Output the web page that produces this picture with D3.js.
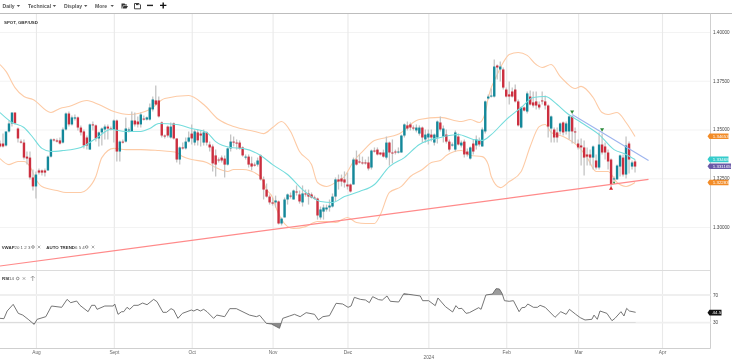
<!DOCTYPE html>
<html>
<head>
<meta charset="utf-8">
<script src="https://cdn.jsdelivr.net/npm/d3@7/dist/d3.min.js"></script>
<style>
  html, body { margin: 0; padding: 0; background: #fff; overflow: hidden; }
  svg { display: block; font-family: "Liberation Sans", Arial, sans-serif; filter: blur(0.25px); }
</style>
</head>
<body>
<script>
// Daily candles, GBP/USD (one row per ten bars)
const opens = [
  1.3428,1.3428,1.3418,1.3490,1.3531,1.3587,1.3505,1.3438,1.3433,1.3361,
  1.3356,1.3254,1.3208,1.3290,1.3290,1.3290,1.3290,1.3361,1.3449,1.3444,
  1.3444,1.3433,1.3500,1.3582,1.3526,1.3556,1.3562,1.3510,1.3490,1.3459,
  1.3397,1.3526,1.3521,1.3454,1.3485,1.3500,1.3515,1.3505,1.3500,1.3546,
  1.3387,1.3438,1.3438,1.3495,1.3490,1.3546,1.3541,1.3526,1.3556,1.3551,
  1.3551,1.3603,1.3649,1.3649,1.3536,1.3469,1.3515,1.3459,1.3531,1.3454,
  1.3346,1.3408,1.3403,1.3438,1.3479,1.3433,1.3485,1.3479,1.3433,1.3485,
  1.3423,1.3413,1.3367,1.3346,1.3356,1.3351,1.3320,1.3403,1.3438,1.3433,
  1.3433,1.3408,1.3356,1.3361,1.3326,1.3320,1.3320,1.3367,1.3244,1.3192,
  1.3156,1.3126,1.3126,1.3131,1.3018,1.3049,1.3141,1.3161,1.3141,1.3182,
  1.3167,1.3126,1.3172,1.3172,1.3167,1.3151,1.3146,1.3049,1.3079,1.3090,
  1.3100,1.3105,1.3156,1.3244,1.3249,1.3244,1.3218,1.3218,1.3218,1.3346,
  1.3336,1.3331,1.3331,1.3331,1.3305,1.3392,1.3397,1.3382,1.3382,1.3356,
  1.3433,1.3382,1.3387,1.3382,1.3382,1.3469,1.3521,1.3526,1.3510,1.3495,
  1.3479,1.3510,1.3449,1.3459,1.3474,1.3433,1.3459,1.3536,1.3464,1.3474,
  1.3438,1.3418,1.3397,1.3464,1.3418,1.3438,1.3387,1.3351,1.3428,1.3418,
  1.3444,1.3413,1.3490,1.3659,1.3669,1.3669,1.3828,1.3808,1.3808,1.3705,
  1.3680,1.3695,1.3705,1.3644,1.3510,1.3613,1.3592,1.3669,1.3639,1.3644,
  1.3628,1.3649,1.3644,1.3623,1.3505,1.3500,1.3485,1.3490,1.3536,1.3490,
  1.3490,1.3567,1.3490,1.3428,1.3418,1.3408,1.3372,1.3372,1.3356,1.3341,
  1.3305,1.3423,1.3413,1.3382,1.3346,1.3244,1.3244,1.3310,1.3356,1.3269,
  1.3428,1.3310,1.3336
]
const closes = [
  1.3413,1.3413,1.3490,1.3531,1.3587,1.3531,1.3454,1.3433,1.3356,1.3351,
  1.3254,1.3208,1.3269,1.3279,1.3279,1.3279,1.3361,1.3449,1.3444,1.3438,
  1.3428,1.3500,1.3582,1.3526,1.3562,1.3562,1.3510,1.3485,1.3418,1.3418,
  1.3526,1.3521,1.3454,1.3485,1.3505,1.3515,1.3505,1.3500,1.3546,1.3387,
  1.3438,1.3433,1.3505,1.3500,1.3546,1.3526,1.3526,1.3577,1.3551,1.3562,
  1.3613,1.3654,1.3628,1.3567,1.3469,1.3464,1.3469,1.3515,1.3454,1.3346,
  1.3408,1.3403,1.3438,1.3459,1.3454,1.3490,1.3444,1.3469,1.3485,1.3433,
  1.3408,1.3326,1.3320,1.3341,1.3341,1.3320,1.3403,1.3438,1.3433,1.3428,
  1.3403,1.3367,1.3361,1.3320,1.3310,1.3315,1.3341,1.3244,1.3192,1.3156,
  1.3126,1.3120,1.3136,1.3018,1.3043,1.3141,1.3167,1.3156,1.3187,1.3177,
  1.3131,1.3172,1.3167,1.3156,1.3151,1.3146,1.3059,1.3090,1.3100,1.3100,
  1.3110,1.3156,1.3244,1.3233,1.3233,1.3228,1.3208,1.3182,1.3346,1.3320,
  1.3331,1.3326,1.3326,1.3300,1.3392,1.3387,1.3372,1.3372,1.3361,1.3433,
  1.3382,1.3377,1.3382,1.3387,1.3469,1.3526,1.3505,1.3510,1.3505,1.3510,
  1.3510,1.3459,1.3474,1.3479,1.3459,1.3474,1.3541,1.3500,1.3505,1.3438,
  1.3397,1.3423,1.3485,1.3423,1.3433,1.3372,1.3372,1.3408,1.3387,1.3449,
  1.3423,1.3500,1.3644,1.3669,1.3674,1.3823,1.3818,1.3823,1.3715,1.3669,
  1.3669,1.3669,1.3644,1.3521,1.3613,1.3597,1.3685,1.3628,1.3623,1.3623,
  1.3613,1.3644,1.3623,1.3515,1.3567,1.3459,1.3459,1.3531,1.3485,1.3531,
  1.3567,1.3490,1.3485,1.3408,1.3408,1.3356,1.3361,1.3356,1.3413,1.3305,
  1.3423,1.3382,1.3382,1.3336,1.3218,1.3249,1.3315,1.3367,1.3269,1.3418,
  1.3346,1.3331,1.3310
]
const highs = [
  1.3444,1.3479,1.3479,1.3546,1.3587,1.3587,1.3510,1.3449,1.3449,1.3387,
  1.3387,1.3295,1.3285,1.3300,1.3295,1.3300,1.3367,1.3454,1.3454,1.3454,
  1.3459,1.3510,1.3587,1.3592,1.3572,1.3577,1.3567,1.3521,1.3500,1.3469,
  1.3531,1.3541,1.3526,1.3490,1.3510,1.3526,1.3526,1.3515,1.3551,1.3551,
  1.3444,1.3449,1.3562,1.3510,1.3592,1.3587,1.3567,1.3587,1.3572,1.3567,
  1.3633,1.3669,1.3726,1.3669,1.3541,1.3474,1.3521,1.3536,1.3536,1.3454,
  1.3413,1.3433,1.3459,1.3490,1.3526,1.3500,1.3500,1.3495,1.3500,1.3490,
  1.3438,1.3423,1.3397,1.3356,1.3367,1.3367,1.3408,1.3474,1.3464,1.3449,
  1.3444,1.3413,1.3372,1.3372,1.3361,1.3331,1.3356,1.3372,1.3259,1.3223,
  1.3167,1.3151,1.3161,1.3136,1.3049,1.3151,1.3172,1.3177,1.3192,1.3213,
  1.3187,1.3213,1.3192,1.3192,1.3177,1.3161,1.3151,1.3105,1.3115,1.3115,
  1.3141,1.3172,1.3254,1.3269,1.3269,1.3285,1.3279,1.3223,1.3356,1.3392,
  1.3372,1.3361,1.3346,1.3361,1.3397,1.3408,1.3408,1.3382,1.3397,1.3464,
  1.3438,1.3449,1.3397,1.3408,1.3474,1.3531,1.3541,1.3536,1.3521,1.3526,
  1.3521,1.3515,1.3500,1.3500,1.3500,1.3479,1.3546,1.3567,1.3521,1.3500,
  1.3449,1.3433,1.3495,1.3479,1.3444,1.3449,1.3403,1.3413,1.3449,1.3469,
  1.3459,1.3510,1.3649,1.3680,1.3710,1.3859,1.3833,1.3849,1.3818,1.3715,
  1.3746,1.3715,1.3731,1.3654,1.3618,1.3618,1.3695,1.3700,1.3695,1.3695,
  1.3644,1.3695,1.3674,1.3628,1.3572,1.3510,1.3510,1.3536,1.3541,1.3541,
  1.3572,1.3572,1.3510,1.3449,1.3454,1.3444,1.3408,1.3397,1.3418,1.3372,
  1.3485,1.3479,1.3433,1.3397,1.3351,1.3259,1.3320,1.3372,1.3372,1.3464,
  1.3438,1.3341,1.3346
]
const lows = [
  1.3408,1.3408,1.3413,1.3485,1.3515,1.3526,1.3433,1.3428,1.3346,1.3320,
  1.3244,1.3187,1.3146,1.3269,1.3264,1.3259,1.3290,1.3356,1.3438,1.3433,
  1.3423,1.3428,1.3495,1.3515,1.3521,1.3546,1.3495,1.3469,1.3403,1.3397,
  1.3397,1.3495,1.3438,1.3413,1.3418,1.3449,1.3449,1.3495,1.3433,1.3336,
  1.3336,1.3428,1.3433,1.3485,1.3490,1.3515,1.3510,1.3510,1.3546,1.3546,
  1.3546,1.3592,1.3623,1.3562,1.3459,1.3454,1.3459,1.3454,1.3449,1.3331,
  1.3320,1.3397,1.3397,1.3433,1.3423,1.3418,1.3418,1.3413,1.3418,1.3418,
  1.3387,1.3285,1.3259,1.3331,1.3331,1.3254,1.3315,1.3387,1.3413,1.3397,
  1.3397,1.3361,1.3346,1.3305,1.3290,1.3310,1.3310,1.3238,1.3141,1.3151,
  1.3115,1.3110,1.3100,1.3013,1.3008,1.3049,1.3115,1.3146,1.3141,1.3161,
  1.3120,1.3105,1.3156,1.3115,1.3146,1.3141,1.3038,1.3038,1.3038,1.3079,
  1.3079,1.3100,1.3131,1.3192,1.3208,1.3202,1.3192,1.3177,1.3218,1.3315,
  1.3326,1.3320,1.3320,1.3290,1.3295,1.3382,1.3367,1.3367,1.3356,1.3346,
  1.3315,1.3326,1.3372,1.3377,1.3382,1.3459,1.3495,1.3495,1.3495,1.3485,
  1.3469,1.3433,1.3433,1.3423,1.3438,1.3418,1.3428,1.3490,1.3433,1.3428,
  1.3387,1.3413,1.3387,1.3418,1.3408,1.3356,1.3361,1.3346,1.3372,1.3397,
  1.3413,1.3413,1.3479,1.3654,1.3664,1.3664,1.3757,1.3746,1.3705,1.3664,
  1.3628,1.3664,1.3639,1.3515,1.3505,1.3592,1.3582,1.3623,1.3613,1.3603,
  1.3603,1.3628,1.3603,1.3459,1.3433,1.3433,1.3433,1.3474,1.3469,1.3474,
  1.3449,1.3428,1.3428,1.3397,1.3315,1.3264,1.3315,1.3315,1.3295,1.3295,
  1.3295,1.3372,1.3346,1.3295,1.3202,1.3233,1.3244,1.3259,1.3259,1.3249,
  1.3274,1.3295,1.3279
]

// Indicators, read at the bars given in the *Bars lists
const upperBars = [0,2,5,8,11,17,20,23,29,33,38,43,50,55,63,68,73,78,85,88,91,94,97,100,104,106,109,112,115,118,121,125,129,134,137,140,147,154,157,160,162,163,166,168,170,173,176,179,181,184,187,189,192,194,198,201,203,206,209,212]
const upperBand = [1.3833,1.3798,1.3715,1.3669,1.3654,1.3587,1.3608,1.3618,1.3649,1.3628,1.3592,1.3577,1.3603,1.3659,1.3674,1.3628,1.3551,1.3515,1.3490,1.3479,1.3510,1.3541,1.3490,1.3387,1.3320,1.3228,1.3208,1.3228,1.3259,1.3336,1.3387,1.3444,1.3459,1.3485,1.3526,1.3551,1.3562,1.3541,1.3551,1.3536,1.3587,1.3664,1.3782,1.3844,1.3885,1.3895,1.3880,1.3833,1.3818,1.3833,1.3772,1.3741,1.3710,1.3721,1.3664,1.3587,1.3577,1.3587,1.3536,1.3464]
const lowerBars = [0,3,6,8,10,12,14,19,22,27,29,32,34,38,42,47,53,57,59,61,64,69,72,76,78,81,87,89,91,92,94,96,98,102,106,109,112,116,119,122,125,127,130,134,137,141,144,147,149,154,157,161,163,164,167,170,174,177,180,182,184,188,193,196,199,203,206,209,212]
const lowerBand = [1.3351,1.3320,1.3336,1.3336,1.3310,1.3244,1.3208,1.3187,1.3177,1.3177,1.3192,1.3259,1.3356,1.3403,1.3397,1.3397,1.3392,1.3387,1.3382,1.3361,1.3346,1.3331,1.3305,1.3285,1.3295,1.3295,1.3259,1.3192,1.3151,1.3105,1.3038,1.3002,1.2992,1.3002,1.3028,1.3028,1.3023,1.3049,1.3023,1.3018,1.3018,1.3064,1.3177,1.3208,1.3259,1.3295,1.3331,1.3341,1.3367,1.3392,1.3367,1.3361,1.3320,1.3259,1.3202,1.3233,1.3285,1.3413,1.3515,1.3526,1.3485,1.3464,1.3413,1.3356,1.3285,1.3285,1.3228,1.3208,1.3228]
const maBars = [0,4,8,11,14,17,21,27,32,37,42,47,50,53,59,64,69,72,77,81,87,91,96,101,107,111,115,120,125,130,135,140,147,153,158,161,164,169,174,178,182,186,189,194,200,205,209,212]
const maLine = [1.3587,1.3536,1.3510,1.3459,1.3403,1.3387,1.3392,1.3408,1.3454,1.3500,1.3490,1.3490,1.3505,1.3531,1.3526,1.3505,1.3485,1.3438,1.3408,1.3403,1.3367,1.3320,1.3269,1.3192,1.3131,1.3126,1.3156,1.3182,1.3218,1.3310,1.3356,1.3423,1.3459,1.3474,1.3449,1.3444,1.3474,1.3551,1.3613,1.3664,1.3669,1.3628,1.3587,1.3536,1.3474,1.3397,1.3372,1.3346]

// Auto trend lines, [bar, price]
const supportLine = [[0, 1.2800], [216.5, 1.3244]]
const resistanceLine = [[191, 1.3577], [216.5, 1.3341]]
const peakMarkers = [[191, 1.3592], [201, 1.3500]]
const troughMarkers = [[204, 1.3197]]
const pivotMarkers = [[205, 1.3228]]

// Price tags on the right side
const tagValues = [1.34653, 1.33468, 1.331165, 1.32283]
const tagLabels = ['1.34653', '1.33468', '1.331165', '1.32283']
const tagColors = ['#f28c28', '#35cccc', '#6a5aa8', '#f28c28']

// RSI 14
const rsiBars = [0,1.3,2.4,4.4,6.1,7.6,9.4,11.4,12.4,15.3,17.2,20.6,22.4,23.6,25.6,26.7,29.4,30.6,31.7,32.4,35,37.8,38.3,39.4,40.6,41.3,42.4,43.3,44.7,46.1,47.6,49.1,51.3,52.4,54.4,55.6,57.1,58,59.4,60.9,63.9,64.7,65.8,66.9,68,69.1,71.3,72.4,75,76.7,78.9,83.3,85.6,86.7,88.9,90.6,93.3,94.4,96.7,98.3,100.2,102.2,105,106.3,107.8,110,112.2,114.4,116.2,117.2,118.3,120.3,122,123.3,124.4,126.4,127.6,129.2,130.3,133.1,134.8,136.4,140.3,141.1,143.1,145.3,146.2,148.7,151.1,152.2,153.1,154.2,155.6,156.7,159.8,160.6,162.2,164.4,165.6,166.7,167.6,168.4,170,171.4,173.3,174.2,175.3,176.2,178.1,179.4,180.3,182,185.3,187.2,189,190.1,192.2,193.7,195.3,197.6,198.3,199.4,200.3,202.6,204.3,205.3,207.3,208.3,209.2,210.1,212.2]
const rsiValues = [36.3,35.8,46.9,56.5,43.5,41,34.9,27.6,34.9,38.7,54.1,52.2,63.7,58.9,61.3,55.1,45.9,55.1,55.1,49.3,54.1,54.1,57,42.1,45.9,45.9,52.2,49.3,55.1,55.1,58.4,56,63.7,60.4,45,45,50.3,48.3,36.3,43.5,48.3,46.9,49.3,46.9,49.3,45.9,36.3,41,38.7,50.3,50.3,41,38.7,40.6,29.1,28.1,21.9,36.3,39.7,42.1,38.7,44.5,42.1,33.9,38.7,40.2,58,57,52.2,54.1,66.6,63.7,62.8,58.9,67.6,63.3,62.6,68.6,60.9,59.9,71.9,71,68.6,61.8,61.8,54.6,65.7,53.2,45.5,54.6,50.3,50.7,43.5,44.5,51.7,49.3,70,71.4,79.1,78.7,72.4,61.8,60.9,61.8,45.9,51.7,52.2,57,52.2,52.2,55.1,52.2,37.8,45.9,42.1,49.3,42.1,37.3,33.9,34.9,41,34.9,46.9,43.5,32.9,36.3,45.9,39.7,50.7,46.9,45]
const rsiLast = 44.5
const rsiLevels = [70, 30]

// Axis ticks
const tickBars = [12, 38, 64, 91, 116, 143, 169, 193, 221]
const tickLabels = ['Aug', 'Sept', 'Oct', 'Nov', 'Dec', '2024', 'Feb', 'Mar', 'Apr']
const priceTicks = [1.3, 1.325, 1.35, 1.375, 1.4]

const menuItems = ['Daily', 'Technical', 'Display', 'More']
const menuPos = [2.5, 28, 64, 95]
const menuArrows = [16.7, 52.7, 84, 110.5]

const width = 732, height = 360
const chartRight = 710.5, axisBottom = 348.5, topLine = 13.5, dividerY = 270.5

const x = d3.scaleLinear().domain([0, 221]).range([0, 662])
const yPrice = d3.scaleLinear().domain([1.3, 1.4]).range([227, 32])
const yRsi = d3.scaleLinear().domain([30, 70]).range([322.7, 295])

const svg = d3.select('body').append('svg')
  .attr('width', width)
  .attr('height', height)

const defs = svg.append('defs')
defs.append('clipPath').attr('id', 'above')
  .append('rect').attr('x', 0).attr('y', dividerY).attr('width', chartRight).attr('height', yRsi(70) - dividerY)
defs.append('clipPath').attr('id', 'below')
  .append('rect').attr('x', 0).attr('y', yRsi(30)).attr('width', chartRight).attr('height', axisBottom - yRsi(30))

// Grid and axes
const priceAxis = svg.append('g')
  .attr('transform', `translate(${chartRight},0)`)
  .call(d3.axisRight(yPrice).tickValues(priceTicks).tickFormat(d3.format('.5f')).tickSize(-chartRight).tickPadding(2.5))
priceAxis.select('.domain').remove()
priceAxis.selectAll('line').attr('stroke', '#f3f3f3')
priceAxis.selectAll('text').attr('font-size', 4.6).attr('fill', '#444')

const timeAxis = svg.append('g')
  .attr('transform', `translate(0,${axisBottom})`)
  .call(d3.axisBottom(x).tickValues(tickBars).tickFormat((d, i) => tickLabels[i]).tickSize(-(axisBottom - topLine)).tickPadding(2.5))
timeAxis.select('.domain').remove()
timeAxis.selectAll('line').attr('stroke', '#e9e9e9').attr('stroke-width', 1.1)
timeAxis.selectAll('text').attr('font-size', 4.8).attr('fill', '#666')
timeAxis.selectAll('text').filter(d => d === 143).attr('dy', '1.6em')

// Frame
svg.append('line').attr('x1', 0).attr('x2', width).attr('y1', topLine).attr('y2', topLine).attr('stroke', '#bdbdbd').attr('stroke-width', 1.2)
svg.append('line').attr('x1', 0).attr('x2', chartRight).attr('y1', dividerY).attr('y2', dividerY).attr('stroke', '#dcdcdc')
svg.append('line').attr('x1', 0).attr('x2', chartRight).attr('y1', axisBottom).attr('y2', axisBottom).attr('stroke', '#cfcfcf')
svg.append('line').attr('x1', chartRight).attr('x2', chartRight).attr('y1', topLine).attr('y2', axisBottom).attr('stroke', '#cfcfcf')

// Bollinger bands and moving average
const bandPath = (bars, values) => d3.line()
  .x((d, i) => x(bars[i]))
  .y(d => yPrice(d))
  .curve(d3.curveMonotoneX)(values)

svg.append('path').attr('d', bandPath(upperBars, upperBand)).attr('fill', 'none').attr('stroke', '#fdcba6').attr('stroke-width', 1.1)
svg.append('path').attr('d', bandPath(lowerBars, lowerBand)).attr('fill', 'none').attr('stroke', '#fdcba6').attr('stroke-width', 1.1)

// Candles
const bars = d3.range(opens.length)
svg.append('g').selectAll('line')
  .data(bars)
  .join('line')
  .attr('x1', d => x(d))
  .attr('x2', d => x(d))
  .attr('y1', d => yPrice(highs[d]))
  .attr('y2', d => yPrice(lows[d]))
  .attr('stroke', '#c4c4c4')
  .attr('stroke-width', 1.3)

svg.append('g').selectAll('rect')
  .data(bars)
  .join('rect')
  .attr('x', d => x(d) - 1.2)
  .attr('width', 2.4)
  .attr('y', d => yPrice(Math.max(opens[d], closes[d])))
  .attr('height', d => Math.max(1, Math.abs(yPrice(opens[d]) - yPrice(closes[d]))))
  .attr('fill', d => closes[d] >= opens[d] ? '#14889a' : '#cc2f3f')

svg.append('path').attr('d', bandPath(maBars, maLine)).attr('fill', 'none').attr('stroke', '#74dcdc').attr('stroke-width', 1.1)

// Trend lines and pivots
const trend = d3.line().x(d => x(d[0])).y(d => yPrice(d[1]))
svg.append('path').attr('d', trend(supportLine)).attr('stroke', '#ff8a8a').attr('stroke-width', 1.2).attr('fill', 'none')
svg.append('path').attr('d', trend(resistanceLine)).attr('stroke', '#9db4ee').attr('stroke-width', 1.1).attr('fill', 'none')

const triangle = d3.symbol().type(d3.symbolTriangle).size(7)
svg.append('g').selectAll('path')
  .data(peakMarkers)
  .join('path')
  .attr('d', triangle)
  .attr('transform', d => `translate(${x(d[0])},${yPrice(d[1])}) rotate(180)`)
  .attr('fill', '#2a8a3a')
svg.append('g').selectAll('path')
  .data(troughMarkers)
  .join('path')
  .attr('d', triangle)
  .attr('transform', d => `translate(${x(d[0])},${yPrice(d[1])})`)
  .attr('fill', '#d8232a')
svg.append('g').selectAll('path')
  .data(pivotMarkers)
  .join('path')
  .attr('d', d3.symbol().type(d3.symbolTriangle).size(3))
  .attr('transform', d => `translate(${x(d[0])},${yPrice(d[1])}) rotate(180)`)
  .attr('fill', '#2a8a3a')

// Price tags
const tags = svg.append('g').selectAll('g')
  .data(tagValues)
  .join('g')
  .attr('transform', d => `translate(${chartRight},${yPrice(d)})`)
tags.append('path')
  .attr('d', (d, i) => {
    const w = tagLabels[i].length > 7 ? 20.5 : 18
    return `M-3,0L-1,-2.8H${w}V2.8H-1Z`
  })
  .attr('fill', (d, i) => tagColors[i])
tags.append('text')
  .attr('x', 2.3)
  .attr('y', 1.6)
  .attr('font-size', 4.4)
  .attr('fill', '#fff')
  .text((d, i) => tagLabels[i])

// RSI panel
svg.append('g').selectAll('line')
  .data(rsiLevels)
  .join('line')
  .attr('x1', 0)
  .attr('x2', chartRight)
  .attr('y1', d => yRsi(d))
  .attr('y2', d => yRsi(d))
  .attr('stroke', '#efefef')
  .attr('stroke-width', 1.8)

svg.append('path')
  .attr('d', d3.area().x((d, i) => x(rsiBars[i])).y0(yRsi(70)).y1(d => yRsi(d))(rsiValues))
  .attr('clip-path', 'url(#above)')
  .attr('fill', '#9c9c9c')
svg.append('path')
  .attr('d', d3.area().x((d, i) => x(rsiBars[i])).y0(yRsi(30)).y1(d => yRsi(d))(rsiValues))
  .attr('clip-path', 'url(#below)')
  .attr('fill', '#8a8a8a')
svg.append('path')
  .attr('d', d3.line().x((d, i) => x(rsiBars[i])).y(d => yRsi(d))(rsiValues))
  .attr('fill', 'none')
  .attr('stroke', '#666')
  .attr('stroke-width', 0.9)

svg.append('g').selectAll('text')
  .data(rsiLevels)
  .join('text')
  .attr('x', chartRight + 2.5)
  .attr('y', d => yRsi(d) + 1.6)
  .attr('font-size', 4.6)
  .attr('fill', '#444')
  .text(d => d)

const rsiTag = svg.append('g').attr('transform', `translate(${chartRight},${yRsi(rsiLast)})`)
rsiTag.append('path').attr('d', 'M-3,0L-1,-2.8H11V2.8H-1Z').attr('fill', '#111')
rsiTag.append('text').attr('x', 2.1).attr('y', 1.6).attr('font-size', 4.4).attr('fill', '#fff').text(rsiLast)

// Legends and title
function label(str, px, py, bold) {
  svg.append('text')
    .attr('x', px)
    .attr('y', py)
    .attr('font-size', 4.4)
    .attr('font-weight', bold ? 700 : 400)
    .attr('fill', bold ? '#333' : '#555')
    .text(str)
}
function gear(px, py) {
  svg.append('circle').attr('cx', px).attr('cy', py).attr('r', 1.3).attr('fill', 'none').attr('stroke', '#666').attr('stroke-width', 0.7)
}
function cross(px, py) {
  svg.append('path').attr('d', `M${px - 1.3},${py - 1.3}L${px + 1.3},${py + 1.3}M${px + 1.3},${py - 1.3}L${px - 1.3},${py + 1.3}`).attr('stroke', '#777').attr('stroke-width', 0.6)
}

label('SPOT, GBP/USD', 4, 24.2, true)
label('VWAP', 1.7, 248.5, true)
label('20 1 2 3', 14.5, 248.5, false)
gear(33, 247)
cross(39, 247)
label('AUTO TREND', 46.3, 248.5, true)
label('6 5 4', 75, 248.5, false)
gear(86.7, 247)
cross(93, 247)
label('RSI', 2, 280, true)
label('14', 9, 280, false)
gear(17.7, 278.5)
cross(24, 278.5)
svg.append('path').attr('d', 'M32.7,281V276M30.7,278L32.7,276L34.7,278').attr('fill', 'none').attr('stroke', '#777').attr('stroke-width', 0.6)

// Toolbar
svg.append('g').selectAll('text')
  .data(menuItems)
  .join('text')
  .attr('x', (d, i) => menuPos[i])
  .attr('y', 7.8)
  .attr('font-size', 5.1)
  .attr('font-weight', 700)
  .attr('fill', '#555')
  .text(d => d)
svg.append('g').selectAll('path')
  .data(menuArrows)
  .join('path')
  .attr('d', d => `M${d},5L${d + 3.4},5L${d + 1.7},7.1Z`)
  .attr('fill', '#555')

svg.append('path').attr('d', 'M121.5,3.5H124.5L125.5,4.5H127V5.5H123L122,8.5H121.5ZM123.5,6H128L126.5,8.5H122.5Z').attr('fill', '#333')
svg.append('path').attr('d', 'M134.5,3.5H139L140.5,5V8.8H134.5Z').attr('fill', 'none').attr('stroke', '#333').attr('stroke-width', 0.9)
svg.append('rect').attr('x', 136).attr('y', 3.5).attr('width', 2.6).attr('height', 1.6).attr('fill', '#333')
svg.append('rect').attr('x', 147).attr('y', 4.7).attr('width', 6).attr('height', 1.4).attr('fill', '#222')
svg.append('path').attr('d', 'M160,5.4H166.4M163.2,2.4V8.4').attr('stroke', '#111').attr('stroke-width', 1.4)
</script>
</body>
</html>
